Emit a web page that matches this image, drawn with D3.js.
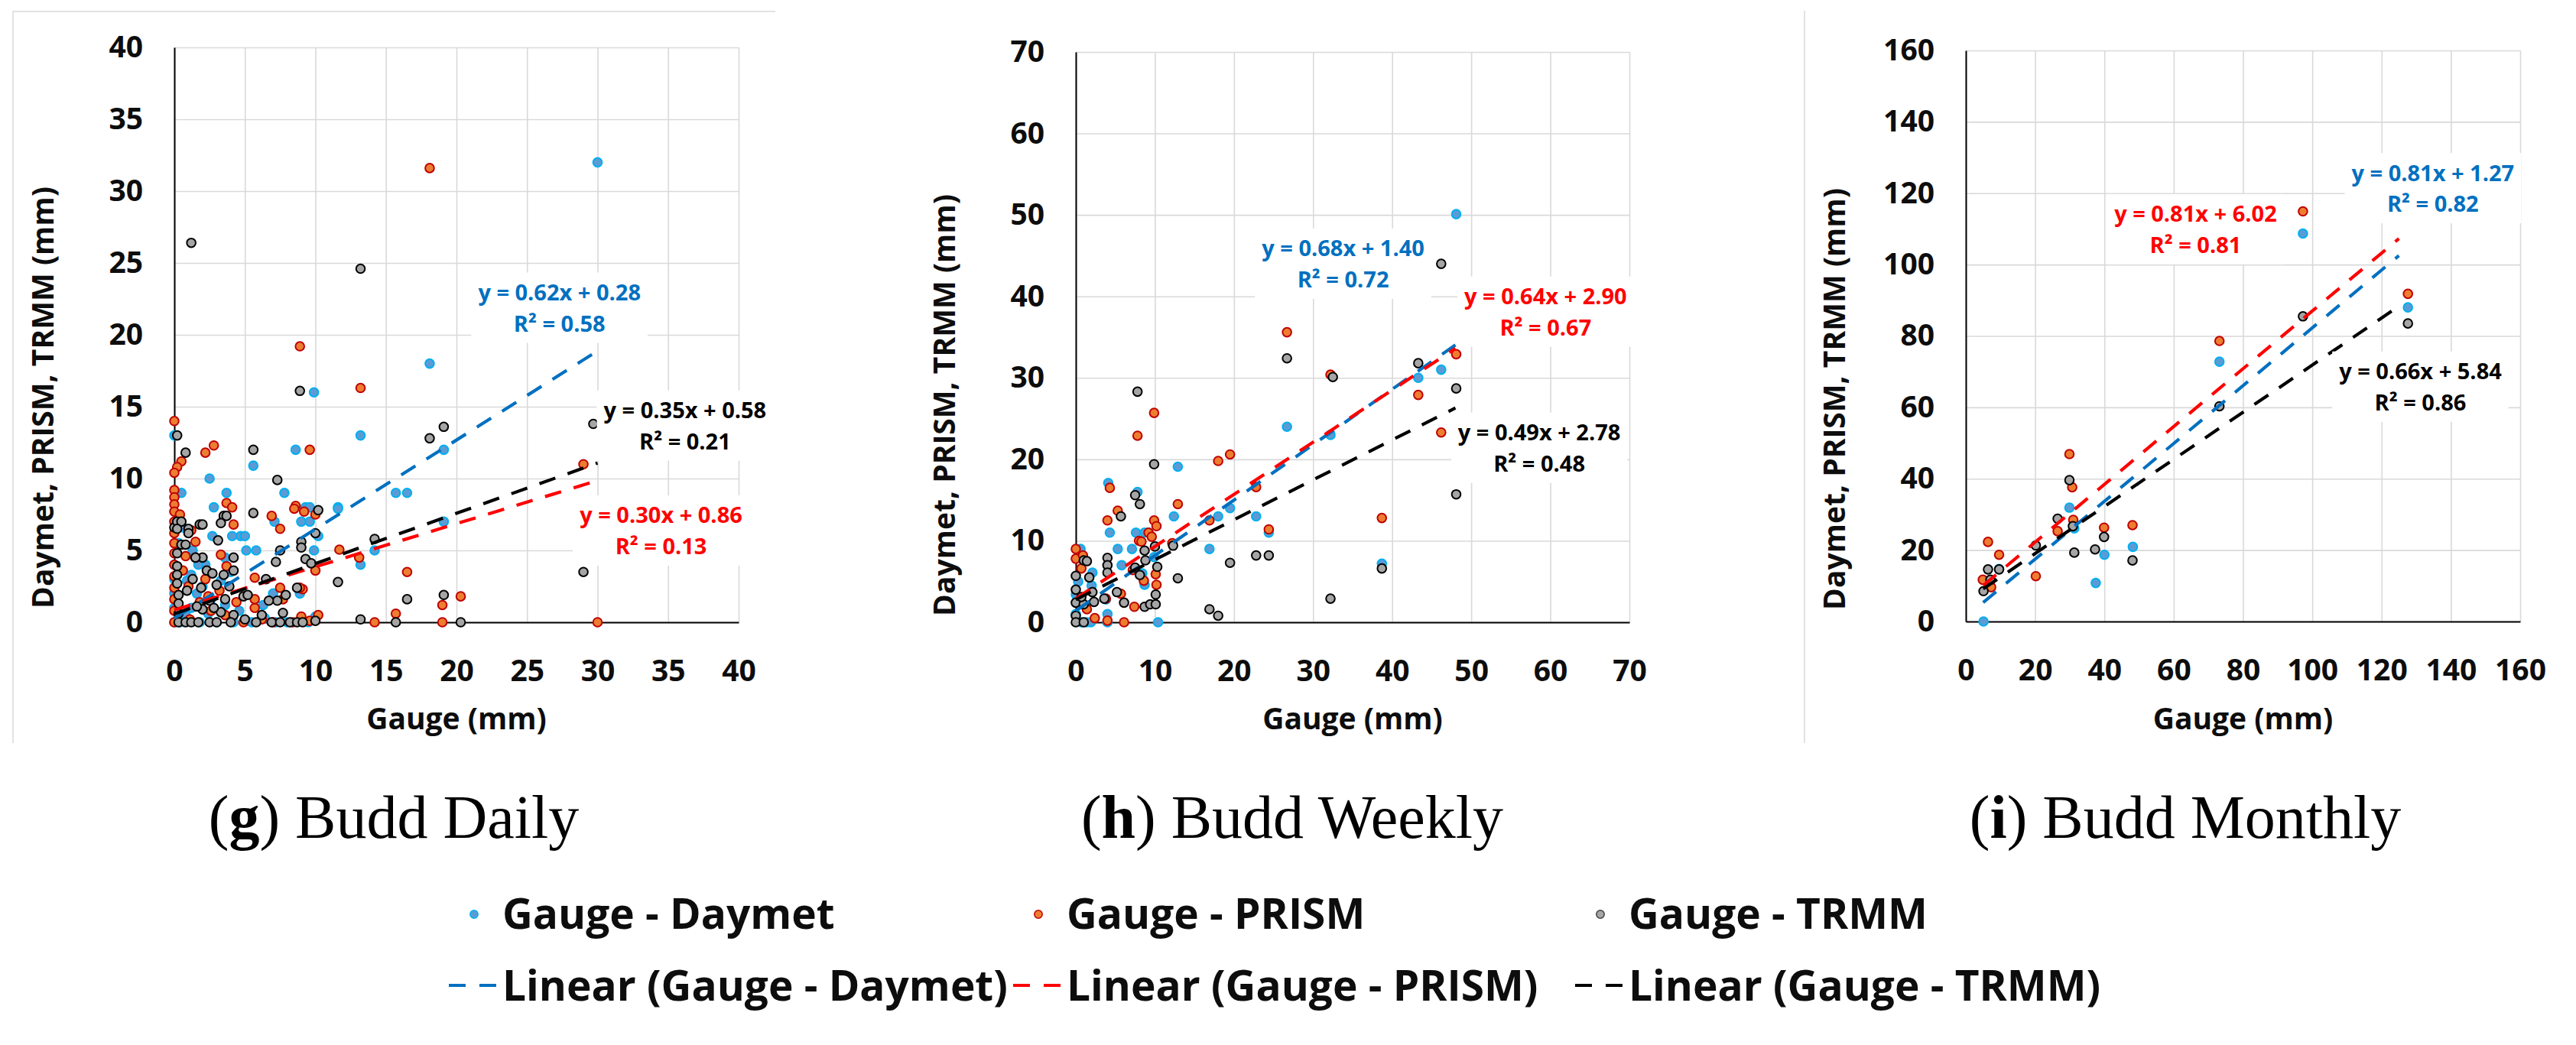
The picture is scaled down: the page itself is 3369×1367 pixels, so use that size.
<!DOCTYPE html>
<html>
<head>
<meta charset="utf-8">
<script src="https://cdn.jsdelivr.net/npm/d3@7/dist/d3.min.js"></script>
<style>
  body { margin: 0; background: #fff; }
  svg { display: block; }
  text { font-family: 'Open Sans', sans-serif; font-weight: 700; }
  .grid line { stroke: #d9d9d9; stroke-width: 1.6; }
  .grid path { display: none; }
  .caption { font-family: 'Liberation Serif', serif; font-weight: 400; }
</style>
</head>
<body>
<svg id="chart" width="3369" height="1367"></svg>
<script>
const seriesNames = ['Gauge - Daymet', 'Gauge - PRISM', 'Gauge - TRMM']

const dailyTicks = [0, 5, 10, 15, 20, 25, 30, 35, 40]
const weeklyTicks = [0, 10, 20, 30, 40, 50, 60, 70]
const monthlyTicks = [0, 20, 40, 60, 80, 100, 120, 140, 160]

// [gauge, product] pairs
const dailyDaymet = [[30.0,32.0],[18.1,18.0],[9.9,16.0],[13.2,13.0],[8.6,12.0],[5.6,10.9],[2.5,10.0],[19.1,12.0],[15.7,9.0],[16.5,9.0],[7.8,9.0],[3.7,9.0],[0.5,9.0],[0,13.0],[2.8,8.0],[9.3,8.0],[9.6,8.0],[11.6,8.0],[9.0,7.0],[9.6,7.0],[7.1,7.0],[10.2,6.0],[4.7,6.0],[4.1,6.0],[2.7,6.0],[5.0,6.0],[5.1,5.0],[5.8,5.0],[9.9,5.0],[14.2,5.0],[13.2,4.0],[19.1,7.0],[11.6,7.9],[8.9,2.0],[2.2,4.0],[1.7,4.0],[0.9,2.9],[1.6,2.0],[7.0,2.0],[9.0,2.3],[0,4.0],[0,3.0],[0,2.0],[0,1.0],[0,0],[0.4,0],[0.8,0.5],[1.2,1.0],[1.8,0],[2.4,0.6],[3.0,0],[3.6,1.2],[4.2,0],[4.6,0.8],[5.1,0.1],[5.5,0],[6.4,0.3],[7.2,0],[8.0,0],[9.5,0],[10.0,0.4],[1.2,3.3],[2.0,2.5],[2.6,1.6],[3.3,2.9],[4.0,3.5],[6.3,1.2],[0.3,5.5],[0.6,6.6],[1.3,5.0],[3.6,4.5]]
const dailyPrism = [[18.1,31.6],[8.9,19.2],[13.2,16.3],[9.6,12.0],[2.8,12.3],[2.2,11.8],[0,14.0],[0.5,11.2],[0.2,10.8],[0,10.4],[0,9.2],[0,8.7],[0,8.2],[0,7.7],[0,7.0],[0,6.2],[0,5.5],[0,4.8],[0,4.0],[0,3.2],[0,2.4],[0,1.6],[0,0.8],[0,0],[3.7,8.3],[4.1,8.0],[8.6,8.1],[9.2,7.7],[6.9,7.4],[7.5,6.5],[4.2,6.8],[10.0,7.5],[8.5,7.9],[11.7,5.05],[13.1,4.5],[10.0,3.6],[16.5,3.5],[5.7,3.1],[29.0,11.0],[20.3,1.8],[19.0,1.2],[15.7,0.6],[19.0,0],[14.2,0],[30.0,0],[10.2,0.5],[9.0,0.4],[5.7,1.0],[5.7,1.6],[7.5,2.4],[9.1,2.3],[3.3,4.7],[3.7,3.9],[1.5,5.6],[1.5,4.5],[0.8,4.6],[8.9,2.4],[7.7,1.6],[4.9,0],[6.2,0.2],[7.0,0],[8.4,0],[9.6,0.1],[1.0,2.5],[1.8,1.4],[2.6,0.8],[3.2,2.2],[2.2,3.0],[1.2,6.4],[0.4,7.5],[2.4,1.8],[3.6,0.5],[4.4,1.4],[0.6,3.6],[1.1,0.2]]
const dailyTrmm = [[1.2,26.4],[13.2,24.6],[8.9,16.1],[19.1,13.6],[18.1,12.8],[0.2,13.0],[0.8,11.8],[5.6,12.0],[7.3,9.9],[5.6,7.6],[10.2,7.8],[3.5,7.4],[3.3,6.9],[1.8,6.8],[1.0,6.5],[0,6.6],[0.2,7.0],[3.1,5.7],[9.0,5.6],[9.0,5.2],[7.5,5.0],[14.2,5.8],[10.0,6.2],[4.2,4.5],[9.3,4.4],[9.7,4.1],[7.2,4.2],[11.6,2.8],[16.5,1.6],[19.1,1.9],[29.0,3.5],[29.7,13.8],[8.7,2.4],[7.9,1.9],[6.5,3.0],[4.9,1.8],[5.2,1.9],[7.3,1.5],[6.7,1.5],[7.7,0.65],[6.2,0.5],[4.2,3.6],[3.5,3.3],[3.9,2.5],[3.0,2.6],[3.3,0.7],[4.2,0.5],[5.0,0.2],[2.0,4.5],[2.3,3.6],[2.7,3.4],[1.5,4.5],[2.0,6.8],[3.7,7.4],[0.5,7.0],[0.2,6.5],[0.2,4.8],[0.2,3.9],[0.2,3.3],[0.2,2.7],[0.3,1.9],[0.3,1.3],[0.3,0.6],[0.3,0],[0.8,0],[1.2,0],[1.7,0],[2.5,0],[3.0,0],[4.0,0],[5.8,0],[6.9,0],[7.5,0],[8.2,0],[8.7,0],[9.1,0],[10.0,0.1],[13.2,0.2],[15.7,0],[20.3,0],[2.0,0.9],[1.6,1.1],[2.5,1.5],[0.5,5.4],[1.0,6.2],[0.8,5.4],[1.3,3.0],[0.9,2.2],[1.9,2.4],[2.8,1.0],[3.6,1.6]]

const weeklyDaymet = [[48.1,50.1],[46.2,31.0],[43.3,30.0],[32.2,23.0],[26.7,24.0],[12.9,19.1],[19.5,14.0],[22.8,13.0],[24.4,11.0],[16.9,9.0],[18.0,13.0],[12.4,13.0],[38.7,7.2],[10.4,0],[7.8,16.0],[4.1,17.1],[4.3,11.0],[5.3,9.0],[5.8,7.0],[7.6,11.0],[7.1,9.0],[8.7,11.0],[9.9,8.0],[0.6,9.0],[2.1,6.1],[3.8,2.8],[4.0,1.0],[4.0,0],[0.7,0],[1.4,0],[1.9,0],[0,3.4],[0,1.0],[8.7,4.6],[9.2,11.0],[8.4,6.0],[2.0,4.5],[1.2,2.0],[0.3,5.0]]
const weeklyPrism = [[48.1,32.9],[43.3,27.9],[46.2,23.3],[38.7,12.8],[32.2,30.4],[26.7,35.6],[22.8,16.6],[24.4,11.4],[19.5,20.6],[18.0,19.8],[16.9,12.5],[12.9,14.5],[9.9,25.7],[7.8,22.9],[4.3,16.5],[4.0,12.5],[5.3,13.7],[9.9,12.5],[10.2,11.8],[9.2,11.0],[8.0,10.0],[8.6,5.1],[7.4,1.9],[10.2,4.6],[10.1,5.9],[6.1,0],[4.0,0.2],[2.4,0.5],[5.7,3.5],[0,9.0],[0,7.8],[0.7,6.6],[0.9,8.2],[1.4,1.6],[3.8,2.9],[12.2,9.7],[7.2,6.4],[8.3,9.9],[9.6,10.5]]
const weeklyTrmm = [[46.2,44.0],[43.3,31.8],[32.5,30.1],[26.7,32.4],[48.1,28.7],[48.1,15.7],[32.2,2.9],[38.7,6.6],[22.8,8.2],[24.4,8.2],[19.5,7.3],[16.9,1.6],[18.0,0.8],[12.9,5.4],[12.3,9.4],[9.9,19.4],[7.8,28.3],[7.5,15.6],[8.1,14.5],[5.7,13.0],[4.0,7.9],[4.0,7.0],[4.0,6.1],[5.2,3.7],[6.1,2.4],[3.6,2.9],[7.5,6.7],[8.1,5.8],[8.7,1.9],[9.4,2.2],[10.1,2.2],[10.3,6.8],[10.1,3.4],[8.7,8.8],[8.8,7.6],[1.0,7.6],[1.4,7.5],[0,5.7],[0,4.0],[0,2.4],[0,0.8],[0,0],[1.0,0],[1.0,2.2],[1.7,5.5],[2.1,3.7],[2.3,2.5],[0.7,3.1],[10.0,9.3]]

const monthlyDaymet = [[97.3,108.7],[127.6,88.0],[73.2,72.8],[29.9,31.9],[31.3,26.1],[48.2,20.9],[40.0,18.7],[37.5,10.8],[5.1,0],[9.6,14.7]]
const monthlyPrism = [[97.3,114.9],[127.6,91.8],[73.2,78.6],[29.9,46.9],[30.7,37.6],[31.0,28.5],[26.5,25.3],[39.9,26.3],[48.1,27.0],[20.2,12.7],[6.4,22.3],[9.6,18.7],[4.9,11.7],[7.3,9.6]]
const monthlyTrmm = [[97.3,85.5],[127.6,83.5],[73.2,60.3],[29.9,39.6],[30.9,26.7],[26.5,28.8],[31.3,19.3],[37.3,20.2],[39.9,23.7],[48.1,17.1],[20.2,21.3],[9.6,14.6],[6.4,14.6],[5.1,8.5],[7.1,11.7]]

// slope, intercept, R² (Daymet, PRISM, TRMM)
const dailyFits = [[0.62, 0.28, 0.58], [0.30, 0.86, 0.13], [0.35, 0.58, 0.21]]
const weeklyFits = [[0.68, 1.40, 0.72], [0.64, 2.90, 0.67], [0.49, 2.78, 0.48]]
const monthlyFits = [[0.81, 1.27, 0.82], [0.81, 6.02, 0.81], [0.66, 5.84, 0.86]]

// gauge range covered by the trendlines
const dailyTrend = [0, 30]
const weeklyTrend = [0, 48]
const monthlyTrend = [5, 125]

const captions = [['g', 'Budd Daily'], ['h', 'Budd Weekly'], ['i', 'Budd Monthly']]

const fills = ['#5B9BD5', '#ED7D31', '#A5A5A5']
const strokes = ['#00B0F0', '#C00000', '#000000']
const lineColors = ['#0070C0', '#FF0000', '#000000']

const panels = [
    {ticks: dailyTicks, series: [dailyDaymet, dailyPrism, dailyTrmm], fits: dailyFits, trend: dailyTrend,
     left: 228, right: 966, top: 62, bottom: 814, titleY: 520, capX: 515,
     labelPos: [[27.3, 22.95], [34.5, 7.45], [36.2, 14.75]]},
    {ticks: weeklyTicks, series: [weeklyDaymet, weeklyPrism, weeklyTrmm], fits: weeklyFits, trend: weeklyTrend,
     left: 1407, right: 2131, top: 68, bottom: 814, titleY: 530, capX: 1690,
     labelPos: [[33.8, 45.9], [59.4, 40.0], [58.6, 23.3]]},
    {ticks: monthlyTicks, series: [monthlyDaymet, monthlyPrism, monthlyTrmm], fits: monthlyFits, trend: monthlyTrend,
     left: 2571, right: 3296, top: 66, bottom: 813, titleY: 522, capX: 2858,
     labelPos: [[134.8, 125.7], [66.3, 114.2], [131.2, 70.1]]}
]

const svg = d3.select('#chart')

// chart-area edges left over from the spreadsheet export
svg.append('path')
    .attr('d', 'M17,972V15H1014 M2360,14V972')
    .attr('fill', 'none')
    .attr('stroke', '#d9d9d9')
    .attr('stroke-width', 1.5)

const drawPanel = (p, k) => {
    const max = p.ticks[p.ticks.length - 1]
    const x = d3.scaleLinear().domain([0, max]).range([p.left, p.right])
    const y = d3.scaleLinear().domain([0, max]).range([p.bottom, p.top])
    const g = svg.append('g')

    // grid
    g.append('g').attr('class', 'grid')
        .attr('transform', `translate(0,${p.bottom})`)
        .call(d3.axisBottom(x).tickValues(p.ticks).tickSize(-(p.bottom - p.top)).tickFormat(''))
    g.append('g').attr('class', 'grid')
        .attr('transform', `translate(${p.left},0)`)
        .call(d3.axisLeft(y).tickValues(p.ticks).tickSize(-(p.right - p.left)).tickFormat(''))

    // axis lines + labels
    const xAxis = g.append('g')
        .attr('transform', `translate(0,${p.bottom})`)
        .call(d3.axisBottom(x).tickValues(p.ticks).tickSize(0).tickSizeOuter(0).tickPadding(49))
    const yAxis = g.append('g')
        .attr('transform', `translate(${p.left},0)`)
        .call(d3.axisLeft(y).tickValues(p.ticks).tickSize(0).tickSizeOuter(0).tickPadding(41))
    ;[xAxis, yAxis].forEach(a => {
        a.select('.domain').attr('stroke', '#000').attr('stroke-width', 2)
        a.selectAll('text').attr('font-family', null).attr('font-size', 39).style('fill', '#0d0d0d')
    })

    // points, series order as in the sheet
    p.series.forEach((data, i) => {
        g.append('g').selectAll('circle')
            .data(data)
            .enter().append('circle')
                .attr('cx', d => x(d[0]))
                .attr('cy', d => y(d[1]))
                .attr('r', 5.8)
                .attr('fill', fills[i])
                .attr('stroke', strokes[i])
                .attr('stroke-width', 2)
    })

    // trendlines
    p.fits.forEach((f, i) => {
        g.append('path')
            .datum(p.trend.map(v => [v, f[0] * v + f[1]]))
            .attr('fill', 'none')
            .attr('stroke', lineColors[i])
            .attr('stroke-width', 4.2)
            .attr('stroke-dasharray', '22,17')
            .attr('d', d3.line().x(d => x(d[0])).y(d => y(d[1])))
    })

    // equation labels
    p.fits.forEach((f, i) => {
        const cx = x(p.labelPos[i][0]), cy = y(p.labelPos[i][1])
        const lab = g.append('g')
        const box = lab.append('rect').attr('fill', '#fff')
        const lines = [`y = ${f[0].toFixed(2)}x + ${f[1].toFixed(2)}`, `R² = ${f[2].toFixed(2)}`]
        let w = 0
        lines.forEach((t, j) => {
            const el = lab.append('text')
                .attr('x', cx)
                .attr('y', cy + j * 40.6)
                .attr('dy', '0.36em')
                .attr('text-anchor', 'middle')
                .attr('font-size', 29)
                .style('fill', lineColors[i])
                .text(t)
            w = Math.max(w, el.node().getComputedTextLength())
        })
        box.attr('x', cx - w / 2 - 9).attr('y', cy - 26).attr('width', w + 18).attr('height', 92)
    })

    // axis titles
    g.append('text')
        .attr('x', (p.left + p.right) / 2)
        .attr('y', 954)
        .attr('text-anchor', 'middle')
        .attr('font-size', 39)
        .style('fill', '#0d0d0d')
        .text('Gauge (mm)')
    g.append('text')
        .attr('transform', `translate(${p.left - 158},${p.titleY}) rotate(-90)`)
        .attr('text-anchor', 'middle')
        .attr('font-size', 39)
        .style('fill', '#0d0d0d')
        .text('Daymet, PRISM, TRMM (mm)')

    // sub-figure caption
    const cap = svg.append('text')
        .attr('class', 'caption')
        .attr('x', p.capX)
        .attr('y', 1096)
        .attr('text-anchor', 'middle')
        .attr('font-size', 80)
        .style('fill', '#000')
    cap.append('tspan').text('(')
    cap.append('tspan').attr('font-weight', 700).text(captions[k][0])
    cap.append('tspan').text(') ' + captions[k][1])
}

panels.forEach(drawPanel)

// legend
const legendX = [657, 1395, 2130]
const legend = svg.append('g')
seriesNames.forEach((name, i) => {
    legend.append('circle')
        .attr('cx', legendX[i] - 37)
        .attr('cy', 1196)
        .attr('r', 5.2)
        .attr('fill', fills[i])
        .attr('stroke', i == 2 ? '#404040' : strokes[i])
        .attr('stroke-width', 1.5)
    legend.append('text')
        .attr('x', legendX[i])
        .attr('y', 1215)
        .attr('font-size', 55)
        .style('fill', '#0d0d0d')
        .text(name)
    legend.append('line')
        .attr('x1', legendX[i] - 70)
        .attr('x2', legendX[i] - 8)
        .attr('y1', 1289)
        .attr('y2', 1289)
        .attr('stroke', lineColors[i])
        .attr('stroke-width', 4.2)
        .attr('stroke-dasharray', '22,18')
    legend.append('text')
        .attr('x', legendX[i])
        .attr('y', 1309)
        .attr('font-size', 55)
        .style('fill', '#0d0d0d')
        .text(`Linear (${name})`)
})
</script>
</body>
</html>
